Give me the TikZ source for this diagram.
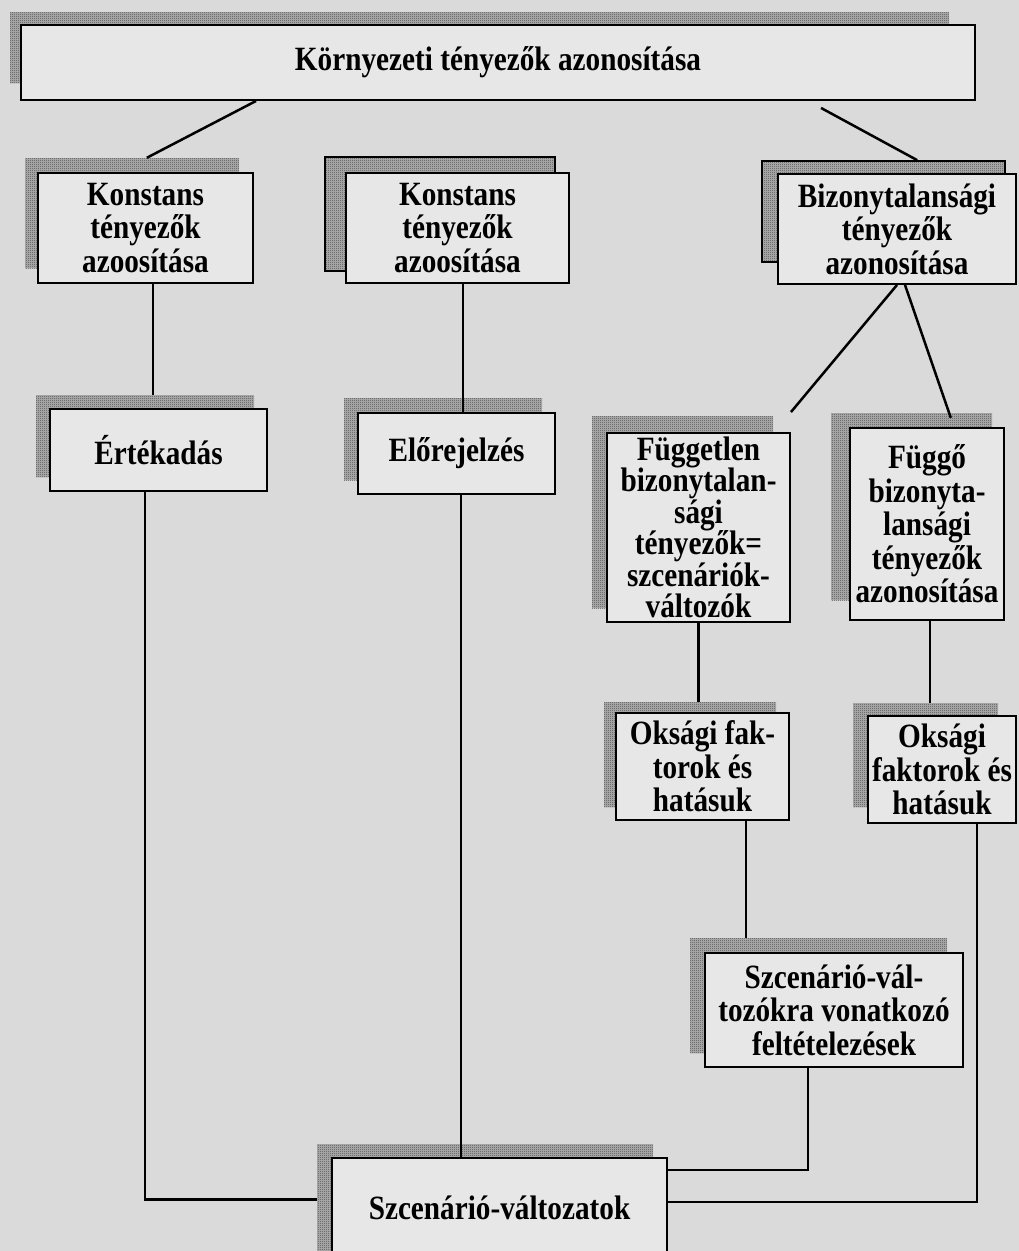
\documentclass[tikz,border=0pt]{standalone}
\usepackage{fontspec}
\newfontfamily\boxfont[FakeStretch=0.86]{Liberation Serif}
\usetikzlibrary{patterns}

% fine checkerboard stipple used for the drop shadows
\pgfdeclarepatternformonly{stipple}{\pgfpointorigin}{\pgfpoint{2pt}{2pt}}{\pgfpoint{2pt}{2pt}}{%
  \pgfpathrectangle{\pgfpointorigin}{\pgfpoint{1pt}{1pt}}%
  \pgfpathrectangle{\pgfpoint{1pt}{1pt}}{\pgfpoint{1pt}{1pt}}%
  \pgfusepath{fill}}

\definecolor{paper}{HTML}{DADADA}
\definecolor{boxfill}{HTML}{E7E7E7}
\definecolor{shadelight}{HTML}{B2B2B2}
\definecolor{shadedark}{HTML}{4A4A4A}

\tikzset{
  box/.style={draw=black, line width=1.9pt, fill=boxfill, inner sep=0pt,
    align=center, font=\boxfont\bfseries\fontsize{34}{33.5}\selectfont},
  tightbox/.style={box, font=\boxfont\bfseries\fontsize{34}{31.5}\selectfont},
  shade/.style={preaction={fill=shadelight}, pattern=stipple,
    pattern color=shadedark, inner sep=0pt},
  framedshade/.style={shade, draw=black, line width=1.7pt},
  link/.style={line width=2.5pt, draw=black}
}

\begin{document}
\begin{tikzpicture}[x=1pt, y=-1pt]
\useasboundingbox (0,0) rectangle (1019,1251);
\fill[paper] (0,0) rectangle (1019,1251);

% drop shadows
\node[shade, minimum width=939pt, minimum height=71pt]  (tops) at (479.5,47.5) {};
\node[shade, minimum width=214pt, minimum height=110pt] (k1s)  at (132,213) {};
\node[framedshade, minimum width=230pt, minimum height=114pt] (k2s) at (440,214) {};
\node[framedshade, minimum width=243pt, minimum height=101pt] (bs)  at (883.5,211.5) {};
\node[shade, minimum width=218pt, minimum height=82pt]  (erts) at (145,436) {};
\node[shade, minimum width=198pt, minimum height=82pt]  (elos) at (443,439) {};
\node[shade, minimum width=181pt, minimum height=192pt] (fg1s) at (682.5,512) {};
\node[shade, minimum width=161pt, minimum height=187pt] (fg2s) at (911.5,506.5) {};
\node[shade, minimum width=172pt, minimum height=105pt] (ok1s) at (690,754.5) {};
\node[shade, minimum width=145pt, minimum height=104pt] (ok2s) at (925.5,755) {};
\node[shade, minimum width=257pt, minimum height=115pt] (szvs) at (818.5,995.5) {};
\node[shade, minimum width=336pt, minimum height=111pt] (bots) at (485,1199.5) {};

% boxes
\node[box, minimum width=954pt, minimum height=75pt]  (top) at (498,62.5) {Környezeti tényezők azonosítása};
\node[box, minimum width=215pt, minimum height=110pt] (k1)  at (145.5,228) {Konstans\\tényezők\\azoosítása};
\node[box, minimum width=223pt, minimum height=110pt] (k2)  at (457.5,228) {Konstans\\tényezők\\azoosítása};
\node[box, minimum width=238pt, minimum height=110pt] (b)   at (897,229) {Bizonytalansági\\tényezők\\azonosítása};
\node[box, minimum width=217pt, minimum height=82pt]  (ert) at (158.5,450) {Értékadás};
\node[box, minimum width=197pt, minimum height=81pt]  (elo) at (456.5,453.5) {Előrejelzés};
\node[tightbox, minimum width=183pt, minimum height=189pt] (fg1) at (698.5,527.5) {Független\\bizonytalan-\\sági\\tényezők=\\szcenáriók-\\változók};
\node[box, minimum width=154pt, minimum height=192pt] (fg2) at (927,524) {Függő\\bizonyta-\\lansági\\tényezők\\azonosítása};
\node[box, minimum width=173pt, minimum height=107pt] (ok1) at (702.5,766.5) {Oksági fak-\\torok és\\hatásuk};
\node[box, minimum width=148pt, minimum height=107pt] (ok2) at (942,769.5) {Oksági\\faktorok és\\hatásuk};
\node[box, minimum width=258pt, minimum height=114pt] (szv) at (834,1010) {Szcenárió-vál-\\tozókra vonatkozó\\feltételezések};
\node[box, minimum width=335pt, minimum height=100pt] (bot) at (499.5,1208) {Szcenárió-változatok};

% connectors
\draw[link] ([xshift=236pt]top.south west) -- ([xshift=122pt]k1s.north west);
\draw[link] ([xshift=801pt,yshift=-7pt]top.south west) -- ([xshift=156pt]bs.north west);
\draw[link] ([xshift=7.5pt]k1.south) -- ([xshift=7.5pt]k1.south |- erts.north);
\draw[link] ([xshift=5.5pt]k2.south) -- ([xshift=5.5pt]k2.south |- elo.north);
\draw[link] (b.south) -- ([yshift=20pt]fg1.north east);
\draw[link] ([xshift=8pt]b.south) -- ([xshift=120pt,yshift=-5pt]fg2s.north west);
\draw[link] ([xshift=-13.5pt]ert.south) |- (bots.west);
\draw[link] ([xshift=4.5pt]elo.south) -- ([xshift=4.5pt]elo.south |- bot.north);
\draw[link] (fg1.south) -- (fg1.south |- ok1s.north);
\draw[link] ([xshift=3pt]fg2.south) -- ([xshift=3pt]fg2.south |- ok2s.north);
\draw[link] ([xshift=43.5pt]ok1.south) -- ([xshift=43.5pt]ok1.south |- szvs.north);
\draw[link] ([xshift=35pt]ok2.south) |- ([yshift=6pt]bot.east);
\draw[link] ([xshift=-26pt]szv.south) |- ([yshift=38pt]bot.east);
\end{tikzpicture}
\end{document}
